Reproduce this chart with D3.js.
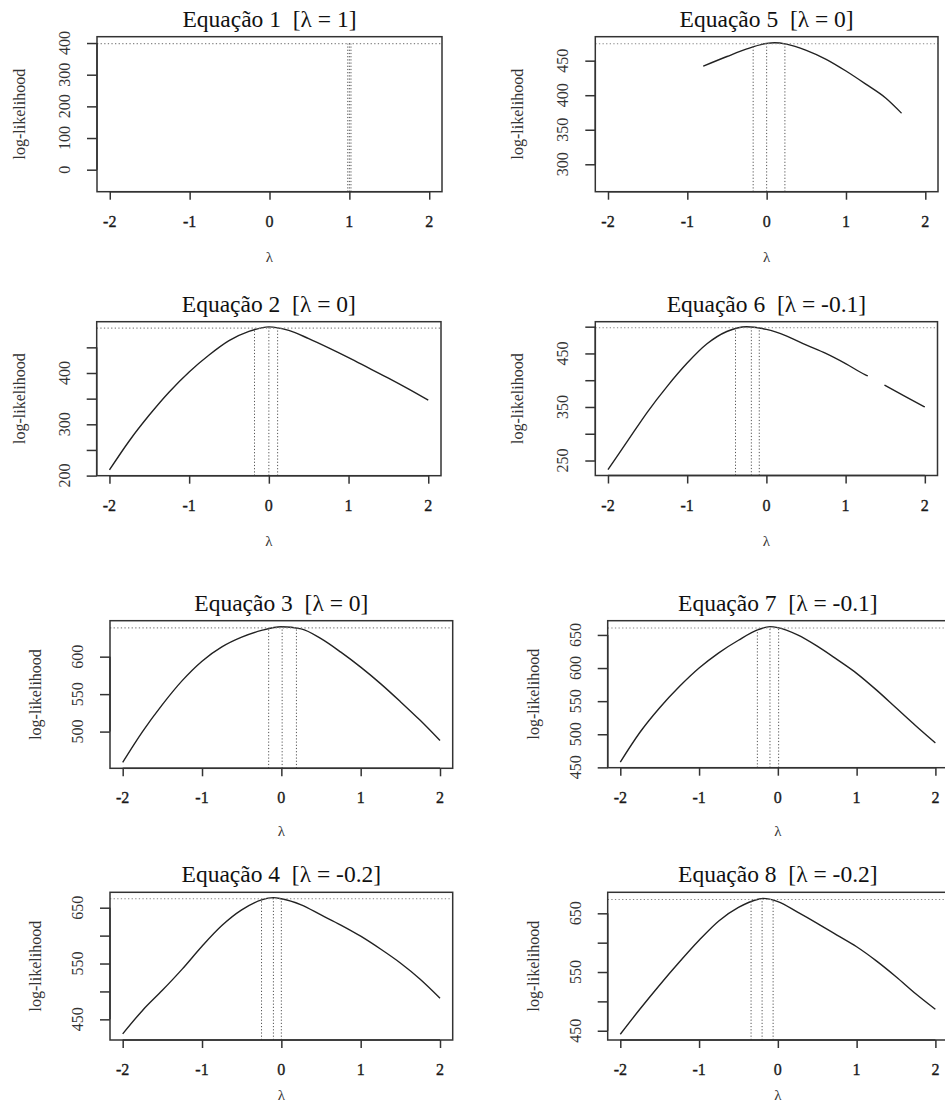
<!DOCTYPE html>
<html>
<head>
<meta charset="utf-8">
<script src="https://cdn.jsdelivr.net/npm/d3@7"></script>
<style>
  html, body { margin: 0; padding: 0; background: #fff; overflow: hidden; }
  svg { display: block; }
  text { font-family: "Liberation Serif", "Times New Roman", serif; white-space: pre; }
</style>
</head>
<body>
<svg id="chart" width="945" height="1110"></svg>
<script>
// ---------------- data ----------------
const equationNames = ["Equação 1", "Equação 2", "Equação 3", "Equação 4", "Equação 5", "Equação 6", "Equação 7", "Equação 8"];
const lambdaHat = ["1", "0", "0", "-0.2", "0", "-0.1", "-0.1", "-0.2"];

const xTicks = [-2, -1, 0, 1, 2];
const xTickLabels = ["-2", "-1", "0", "1", "2"];

// log-likelihood profiles (lambda, log-likelihood)
const lambda1 = [];
const ll1 = [];
const lambda2 = [-2, -1.75, -1.5, -1.25, -1, -0.75, -0.5, -0.25, 0, 0.25, 0.5, 0.75, 1, 1.25, 1.5, 1.75, 2];
const ll2 = [211, 268, 318, 363, 402, 435, 463, 481, 490, 483, 467, 449, 430, 410, 390, 369, 347];
const lambda3 = [-2, -1.75, -1.5, -1.25, -1, -0.75, -0.5, -0.25, 0, 0.25, 0.5, 0.75, 1, 1.25, 1.5, 1.75, 2];
const ll3 = [459, 500, 536, 568, 594, 613, 626, 635, 640, 637, 624, 606, 586, 564, 540, 515, 488];
const lambda4 = [-2, -1.75, -1.5, -1.25, -1, -0.75, -0.5, -0.25, -0.1, 0, 0.25, 0.5, 0.75, 1, 1.25, 1.5, 1.75, 2];
const ll4 = [424, 466, 502, 540, 581, 618, 646, 664, 668, 666, 655, 637, 619, 599, 576, 551, 522, 488];
const lambda5 = [-0.8, -0.5, -0.25, 0, 0.1, 0.25, 0.5, 0.75, 1, 1.25, 1.5, 1.7];
const ll5 = [442, 456, 467, 475, 476, 474, 465, 452, 435, 416, 396, 374];
const lambda6 = [-2, -1.75, -1.5, -1.25, -1, -0.75, -0.5, -0.25, 0, 0.25, 0.5, 0.75, 1, 1.25, 1.28, 1.4, 1.49, 1.75, 2];
const ll6 = [233, 287, 341, 389, 432, 468, 491, 500, 495, 483, 466, 450, 431, 410, 408, null, 391, 370, 350];
const lambda7 = [-2, -1.75, -1.5, -1.25, -1, -0.75, -0.5, -0.25, -0.1, 0, 0.25, 0.5, 0.75, 1, 1.25, 1.5, 1.75, 2];
const ll7 = [458, 503, 540, 572, 600, 623, 642, 658, 662.5, 661, 650, 633, 613, 592, 567, 540, 513, 487];
const lambda8 = [-2, -1.75, -1.5, -1.25, -1, -0.75, -0.5, -0.25, -0.19, 0, 0.25, 0.5, 0.75, 1, 1.25, 1.5, 1.75, 2];
const ll8 = [444, 487, 528, 567, 604, 637, 660, 674, 675.5, 670, 652, 633, 613, 593, 569, 542, 513, 486.5];

const lambdas = [lambda1, lambda2, lambda3, lambda4, lambda5, lambda6, lambda7, lambda8];
const logliks = [ll1, ll2, ll3, ll4, ll5, ll6, ll7, ll8];

// 95% interval: [lower, best, upper], max log-likelihood and cut-off level
const ciLambda = [
  [0.98, 1.0, 1.02], [-0.18, 0.0, 0.11], [-0.16, 0.01, 0.19], [-0.25, -0.1, 0.0],
  [-0.17, 0.0, 0.23], [-0.39, -0.19, -0.09], [-0.26, -0.1, 0.01], [-0.34, -0.2, -0.06]
];
const maxLL = [400, 490, 640.4, 668, 476, 500, 662.5, 675.5];
const cutLL = [398, 487.5, 638.4, 666, 474.5, 498, 660.5, 673.6];

// y axis ranges and ticks
const yDomains = [[-69.5, 420], [199.8, 500], [451, 648], [413, 677.6], [260.3, 484.7], [222, 509.3], [449.5, 671.5], [434.2, 685.8]];
const yTicks = [
  [0, 100, 200, 300, 400], [200, 250, 300, 350, 400, 450], [500, 550, 600], [450, 500, 550, 600, 650],
  [300, 350, 400, 450], [250, 300, 350, 400, 450, 500], [450, 500, 550, 600, 650], [450, 500, 550, 600, 650]
];
const yTickLabels = [
  [0, 100, 200, 300, 400], [200, 300, 400], [500, 550, 600], [450, 550, 650],
  [300, 350, 400, 450], [250, 350, 450], [450, 500, 550, 600, 650], [450, 550, 650]
];
const xDomain = [-2.16, 2.16];

// ---------------- layout ----------------
const boxes = [
  {l: 97,    r: 442,   t: 36.7,  b: 191.7, yl: 72, xl: 70},
  {l: 96.7,  r: 441,   t: 321.7, b: 475.7, yl: 72, xl: 70},
  {l: 110,   r: 452.7, t: 620.7, b: 768.3, yl: 69, xl: 68},
  {l: 110,   r: 452.7, t: 892.3, b: 1040,  yl: 69, xl: 60},
  {l: 595.3, r: 938,   t: 36.7,  b: 191.7, yl: 72, xl: 70},
  {l: 595.3, r: 937.5, t: 321.7, b: 475.5, yl: 72, xl: 70},
  {l: 607.7, r: 948,   t: 620.7, b: 767.7, yl: 69, xl: 68},
  {l: 607.7, r: 948,   t: 892.3, b: 1040,  yl: 69, xl: 60}
];

const svg = d3.select("#chart");
const textColor = "#1a1a1a";
const dotCol = "#555";

boxes.forEach((bx, i) => {
  const g = svg.append("g");
  const x = d3.scaleLinear().domain(xDomain).range([bx.l, bx.r]);
  const y = d3.scaleLinear().domain(yDomains[i]).range([bx.b, bx.t]);

  const clipId = "clip" + i;
  svg.append("clipPath").attr("id", clipId).append("rect")
    .attr("x", bx.l).attr("y", bx.t).attr("width", bx.r - bx.l).attr("height", bx.b - bx.t);
  const plot = g.append("g").attr("clip-path", `url(#${clipId})`);

  // curve
  const pts = lambdas[i].map((lv, k) => ({lam: lv, ll: logliks[i][k]}));
  if (pts.length) {
    const line = d3.line()
      .defined(d => d.ll !== null)
      .x(d => x(d.lam)).y(d => y(d.ll))
      .curve(d3.curveMonotoneX);
    plot.append("path").datum(pts).attr("d", line)
      .attr("fill", "none").attr("stroke", "#222").attr("stroke-width", 1.4);
  }

  // horizontal cut-off line
  plot.append("line")
    .attr("x1", bx.l).attr("x2", bx.r)
    .attr("y1", y(cutLL[i])).attr("y2", y(cutLL[i]))
    .attr("stroke", "#888").attr("stroke-width", 1.1).attr("stroke-dasharray", "1.3,2.3");

  // vertical interval lines
  ciLambda[i].forEach((cv, k) => {
    const top = k === 1 ? maxLL[i] : cutLL[i];
    plot.append("line")
      .attr("x1", x(cv)).attr("x2", x(cv))
      .attr("y1", y(yDomains[i][0])).attr("y2", y(top))
      .attr("stroke", dotCol).attr("stroke-width", 1).attr("stroke-dasharray", "1.2,2");
  });

  // box
  g.append("rect")
    .attr("x", bx.l).attr("y", bx.t).attr("width", bx.r - bx.l).attr("height", bx.b - bx.t)
    .attr("fill", "none").attr("stroke", "#333").attr("stroke-width", 1.5);

  // x axis
  const xAxis = d3.axisBottom(x).tickValues(xTicks).tickSize(8).tickFormat(() => "");
  const xa = g.append("g").attr("transform", `translate(0,${bx.b})`).call(xAxis);
  xa.select(".domain").attr("d", `M${x(xTicks[0])},0H${x(xTicks[xTicks.length - 1])}`)
    .attr("stroke", "#333").attr("stroke-width", 1.5);
  xa.selectAll(".tick line").attr("stroke", "#333").attr("stroke-width", 1.5);
  g.selectAll(null).data(xTicks).enter().append("text")
    .attr("x", d => x(d)).attr("y", bx.b + 35)
    .attr("text-anchor", "middle").attr("font-size", 16).attr("fill", textColor)
    .attr("stroke", textColor).attr("stroke-width", 0.35)
    .text((d, k) => xTickLabels[k]);

  // y axis
  const yAxis = d3.axisLeft(y).tickValues(yTicks[i]).tickSize(10).tickFormat(() => "");
  const ya = g.append("g").attr("transform", `translate(${bx.l},0)`).call(yAxis);
  ya.select(".domain").attr("d", `M0,${y(yTicks[i][0])}V${y(yTicks[i][yTicks[i].length - 1])}`)
    .attr("stroke", "#333").attr("stroke-width", 1.5);
  ya.selectAll(".tick line").attr("stroke", "#333").attr("stroke-width", 1.5);
  g.selectAll(null).data(yTickLabels[i]).enter().append("text")
    .attr("transform", d => `translate(${bx.l - 27},${y(d)}) rotate(-90)`)
    .attr("text-anchor", "middle").attr("font-size", 16).attr("fill", "#333")
    .text(d => String(d));

  // axis titles
  g.append("text")
    .attr("transform", `translate(${bx.l - bx.yl},${(bx.t + bx.b) / 2}) rotate(-90)`)
    .attr("text-anchor", "middle").attr("font-size", 16).attr("fill", "#333")
    .text("log-likelihood");
  g.append("text")
    .attr("x", (bx.l + bx.r) / 2).attr("y", bx.b + bx.xl)
    .attr("text-anchor", "middle").attr("font-size", 15).attr("fill", "#333")
    .text("λ");

  // title
  g.append("text")
    .attr("x", (bx.l + bx.r) / 2).attr("y", bx.t - 10)
    .attr("text-anchor", "middle").attr("font-size", 23.5).attr("fill", "#111")
    .text(`${equationNames[i]}  [λ = ${lambdaHat[i]}]`);
});
</script>
</body>
</html>
